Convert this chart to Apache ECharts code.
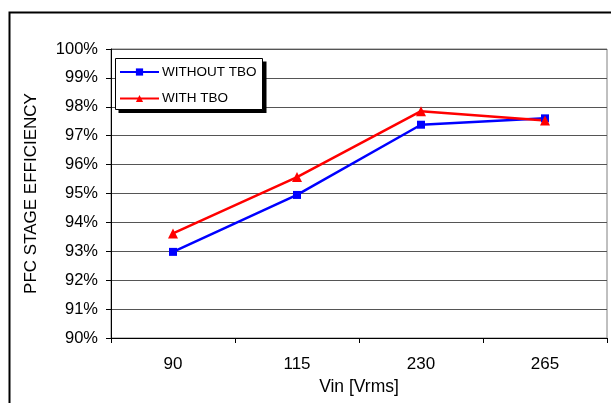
<!DOCTYPE html>
<html><head><meta charset="utf-8">
<script src="https://cdn.jsdelivr.net/npm/echarts@6/dist/echarts.min.js"></script>
<style>html,body{margin:0;padding:0;background:#fff;}#c{width:611px;height:403px;}</style>
</head><body><div id="c"></div>
<script>
const categories = ['90', '115', '230', '265'];
const withoutTBO = [92.98, 94.95, 97.38, 97.6];
const withTBO = [93.62, 95.57, 97.85, 97.53];
const yTicks = [90, 91, 92, 93, 94, 95, 96, 97, 98, 99, 100];

const chart = echarts.init(document.getElementById('c'), null, {renderer: 'canvas'});
const F = 'Liberation Sans, Arial, sans-serif';
chart.setOption({
  animation: false,
  backgroundColor: '#fff',
  textStyle: {fontFamily: F},
  graphic: [
    {type: 'rect', left: 7, top: 10, z: -1, silent: true,
     shape: {x: 0, y: 0, width: 700, height: 500},
     style: {fill: 'none', stroke: '#000', lineWidth: 2}},
    {type: 'rect', z: 3, silent: true, x: 118.5, y: 61.5,
     shape: {x: 0, y: 0, width: 148, height: 51.5},
     style: {fill: '#000'}},
    {type: 'rect', z: 3, silent: true, x: 115.5, y: 58.5,
     shape: {x: 0, y: 0, width: 147, height: 51},
     style: {fill: '#fff', stroke: '#000', lineWidth: 1}}
  ],
  grid: {left: 111, right: 4, top: 49, bottom: 65, show: true, borderColor: '#808080', borderWidth: 1, backgroundColor: 'transparent'},
  legend: {
    left: 119, top: 65, orient: 'vertical', z: 5,
    itemWidth: 39, itemHeight: 9, itemGap: 12.5,
    padding: 0,
    textStyle: {fontFamily: F, fontSize: 13.5, color: '#000', padding: [0, 0, 0, -2]},
    data: ['WITHOUT TBO', 'WITH TBO']
  },
  xAxis: {
    type: 'category', data: categories, boundaryGap: true,
    name: 'Vin [Vrms]', nameLocation: 'middle', nameGap: 31,
    nameTextStyle: {fontFamily: F, fontSize: 17.5, color: '#000'},
    axisLine: {lineStyle: {color: '#000', width: 1}},
    axisTick: {show: true, alignWithLabel: false, length: 5, lineStyle: {color: '#000'}},
    axisLabel: {fontFamily: F, fontSize: 17, color: '#000', margin: 18},
    splitLine: {show: false}
  },
  yAxis: {
    type: 'value', min: 90, max: 100, interval: 1,
    name: 'PFC STAGE EFFICIENCY', nameLocation: 'middle', nameGap: 71, nameRotate: 90,
    nameTextStyle: {fontFamily: F, fontSize: 17, color: '#000'},
    axisLine: {show: true, lineStyle: {color: '#000', width: 1}},
    axisTick: {show: true, length: 5, lineStyle: {color: '#000'}},
    axisLabel: {fontFamily: F, fontSize: 16.5, color: '#000', margin: 13,
      formatter: v => yTicks.includes(v) ? v + '%' : ''},
    splitLine: {show: true, lineStyle: {color: '#555', width: 1}}
  },
  series: [
    {name: 'WITHOUT TBO', type: 'line', data: withoutTBO, color: '#0000ff',
     symbol: 'rect', symbolSize: 8, lineStyle: {width: 2.5, color: '#0000ff'},
     itemStyle: {color: '#0000ff'}},
    {name: 'WITH TBO', type: 'line', data: withTBO, color: '#ff0000',
     symbol: 'triangle', symbolSize: 10, lineStyle: {width: 2.5, color: '#ff0000'},
     itemStyle: {color: '#ff0000'}}
  ]
});
</script></body></html>
